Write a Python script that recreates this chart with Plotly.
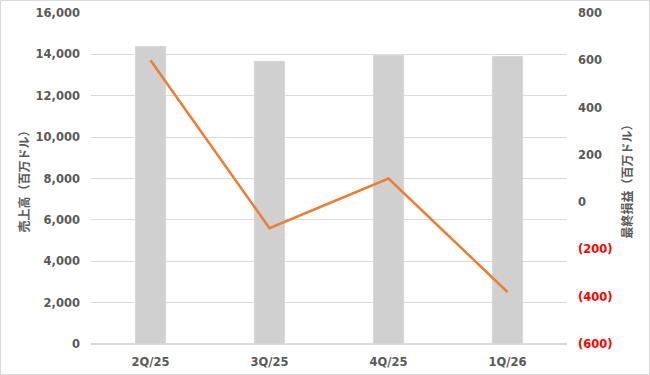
import plotly.graph_objects as go

categories = ["2Q/25", "3Q/25", "4Q/25", "1Q/26"]
revenue = [14400, 13680, 13970, 13920]
net_income = [600, -110, 100, -380]
left_ticks = [0, 2000, 4000, 6000, 8000, 10000, 12000, 14000, 16000]
left_labels = ["0", "2,000", "4,000", "6,000", "8,000", "10,000", "12,000", "14,000", "16,000"]
right_ticks = [-600, -400, -200, 0, 200, 400, 600, 800]
right_labels = ["<span style='color:#FF0000'>(600)</span>",
                "<span style='color:#FF0000'>(400)</span>",
                "<span style='color:#FF0000'>(200)</span>",
                "0", "200", "400", "600", "800"]

fig = go.Figure()
fig.add_trace(go.Bar(x=categories, y=revenue, marker=dict(color="#D0D0D0"),
                     yaxis="y", showlegend=False))
fig.add_trace(go.Scatter(x=categories, y=net_income, mode="lines",
                         line=dict(color="#ED7D31", width=2.5),
                         yaxis="y2", showlegend=False))

tf = dict(family="DejaVu Sans", size=11.5, color="#595959", weight="bold")
fig.update_layout(
    width=650, height=375,
    margin=dict(l=91, r=83, t=13, b=31, autoexpand=False),
    paper_bgcolor="white", plot_bgcolor="white",
    bargap=0.74,
    font=dict(family="DejaVu Sans", color="#595959"),
    xaxis=dict(tickfont=tf, showgrid=False, showline=False, ticks="",
               ticklabelstandoff=9, automargin=False),
    yaxis=dict(range=[0, 16000], tickvals=left_ticks, ticktext=left_labels,
               tickfont=tf, automargin=False,
               gridcolor="#D9D9D9", gridwidth=1, zeroline=True, zerolinecolor="#D9D9D9",
               ticks="", ticklabelstandoff=10,
               title=dict(text="売上高（百万ドル）", standoff=3,
                          font=dict(family="Noto Sans CJK JP", size=12, color="#595959", weight="bold"))),
    yaxis2=dict(range=[-600, 800], tickvals=right_ticks, ticktext=right_labels,
                overlaying="y", side="right", showgrid=False, zeroline=False,
                tickfont=tf, automargin=False,
                ticks="", ticklabelstandoff=10,
                title=dict(text="最終損益（百万ドル）", standoff=12,
                           font=dict(family="Noto Sans CJK JP", size=12, color="#595959", weight="bold"))),
    shapes=[dict(type="rect", xref="paper", yref="paper",
                 x0=-90.5 / 476, x1=1 + 82.5 / 476, y0=-30.5 / 331, y1=1 + 12.5 / 331,
                 line=dict(color="#D9D9D9", width=1))],
)
fig.write_html("out.html")
